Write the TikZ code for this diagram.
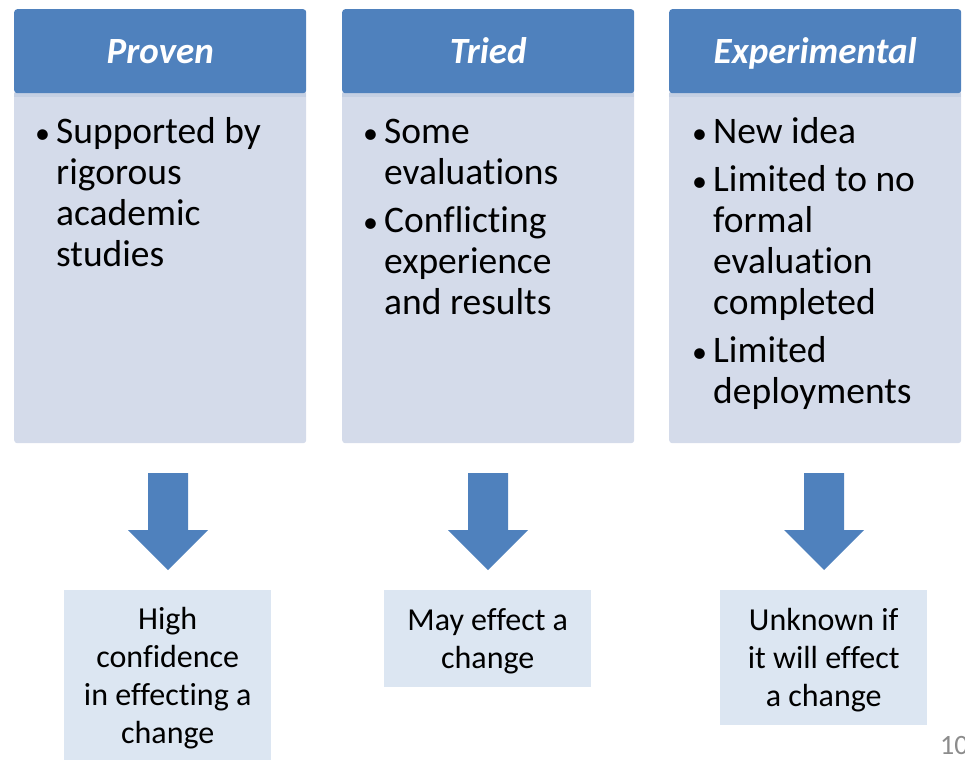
\documentclass[tikz,border=0pt]{standalone}
\usepackage{fontspec}
\setmainfont{Carlito}[Ligatures=NoCommon]
\usetikzlibrary{calc}

\definecolor{hdrblue}{RGB}{79,129,189}
\definecolor{bodyfill}{RGB}{212,219,234}
\definecolor{bandfill}{RGB}{197,208,227}
\definecolor{outfill}{RGB}{220,230,242}
\definecolor{pagenum}{RGB}{140,140,140}

\tikzset{
  x=1pt, y=-1pt,
  colhead/.style={fill=hdrblue, rounded corners=3pt, anchor=north west,
    minimum width=292pt, minimum height=84pt, inner sep=0pt, text=white,
    text height=25pt, text depth=0pt,
    font=\fontsize{37}{40}\selectfont\bfseries\itshape},
  colbody/.style={fill=bodyfill, rounded corners=3pt, anchor=north west,
    minimum width=292pt, minimum height=353pt, inner sep=0pt},
  itemlist/.style={anchor=base west, inner sep=0pt,
    font=\fontsize{37.5}{41}\selectfont},
  outcome/.style={fill=outfill, anchor=north west, inner sep=0pt,
    minimum width=207pt, align=center,
    font=\fontsize{32}{38}\selectfont},
  downarrow/.style={fill=hdrblue},
}
% bullet mark followed by the hanging indent
\newcommand{\bul}{\makebox[21pt][l]{\fontsize{30}{30}\selectfont•}}
% outcome text, set a little below the box centre
\newcommand{\lowered}[1]{\raisebox{-3.5pt}[\height][\depth]{\begin{tabular}{@{}c@{}}#1\end{tabular}}}

\begin{document}
\begin{tikzpicture}
\useasboundingbox (0,0) rectangle (965,760);

% column bodies
\node[colbody] (b1) at (14,90) {};
\node[colbody] (b2) at (342,90) {};
\node[colbody] (b3) at (669,90) {};

% thin band under each header
\foreach \xl in {14,342,669}
  \fill[bandfill] (\xl,93) rectangle ++(292,4);

% column headers
\node[colhead] (h1) at (14,9) {Proven};
\node[colhead] (h2) at (342,9) {Tried};
\node[colhead] (h3) at (669,9) {Experimental};

% bullet lists
\node[itemlist] (t1) at (35,143) {\begin{tabular}[t]{@{}l@{}l@{}}
\bul & Supported by\\
     & rigorous\\
     & academic\\
     & studies
\end{tabular}};
\node[itemlist] (t2) at (363,143) {\begin{tabular}[t]{@{}l@{}l@{}}
\bul & Some\\
     & evaluations\\[7pt]
\bul & Conflicting\\
     & experience\\
     & and results
\end{tabular}};
\node[itemlist] (t3) at (692,143) {\begin{tabular}[t]{@{}l@{}l@{}}
\bul & New idea\\[7pt]
\bul & Limited to no\\
     & formal\\
     & evaluation\\
     & completed\\[7pt]
\bul & Limited\\
     & deployments
\end{tabular}};

% block arrows
\foreach \cx in {168,488,824}
  \fill[downarrow] (\cx-20,473) -- (\cx+20,473) -- (\cx+20,530) -- (\cx+40,530)
    -- (\cx,570) -- (\cx-40,530) -- (\cx-20,530) -- cycle;

% outcome boxes
\node[outcome, minimum height=170pt] (o1) at (64,590)
  {\lowered{High\\confidence\\in effecting a\\change}};
\node[outcome, minimum height=97pt] (o2) at (384,590)
  {\lowered{May effect a\\change}};
\node[outcome, minimum height=135pt] (o3) at (720,590)
  {\lowered{Unknown if\\it will effect\\a change}};

% slide number
\node[anchor=base west, inner sep=0pt, text=pagenum,
  font=\fontsize{28}{32}\selectfont] (pg) at (940,754) {10};
\end{tikzpicture}
\end{document}
